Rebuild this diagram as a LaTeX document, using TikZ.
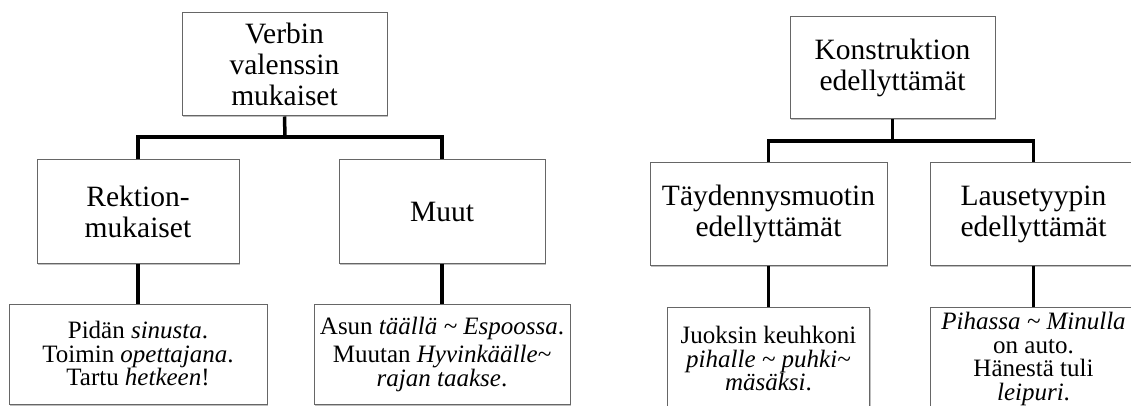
\documentclass[tikz,border=0pt]{standalone}
\usepackage{fontspec}
\setmainfont{Liberation Serif}
\usetikzlibrary{shadows}
\begin{document}
\begin{tikzpicture}[x=1pt,y=-1pt,
  box/.style={draw=black!60, line width=1pt, fill=white, align=center, inner sep=0pt,
    drop shadow={shadow xshift=1pt,shadow yshift=-1.5pt,opacity=0.25,fill=black}},
  big/.style={font=\fontsize{29.5}{31}\selectfont},
  small/.style={font=\fontsize{25}{23.5}\selectfont},
  conn/.style={line width=3.5pt, draw=black}]
\useasboundingbox (0,0) rectangle (1131,406);
\clip (0,0) rectangle (1131,406);
\fill[white] (0,0) rectangle (1131,406);

% left tree
\node[box,big,minimum width=205pt,minimum height=103pt] (v) at (284.5,64.5) {Verbin\\valenssin\\mukaiset};
\node[box,big,minimum width=202pt,minimum height=103pt] (r) at (138,211.5) {Rektion-\\mukaiset};
\node[box,big,minimum width=206pt,minimum height=103pt] (m) at (442,211.5) {Muut};
\node[box,small,minimum width=258pt,minimum height=100pt] (rb) at (138,354) {Pidän \textit{sinusta}.\\Toimin \textit{opettajana}.\\Tartu \textit{hetkeen}!};
\node[box,small,minimum width=256pt,minimum height=100pt] (mb) at (442,354) {Asun \textit{täällä \textasciitilde\ Espoossa}.\\[5pt]Muutan \textit{Hyvinkäälle\textasciitilde}\\\textit{rajan taakse}.};

\coordinate (j1) at (285,137);
\draw[conn] (v.south) -- (j1);
\draw[conn] (r.north) |- (j1) -| (m.north);
\draw[conn] (r.south) -- (rb.north);
\draw[conn] (m.south) -- (mb.north);

% right tree
\node[box,big,minimum width=205pt,minimum height=102pt] (k) at (892.5,68) {Konstruktion\\edellyttämät};
\node[box,big,minimum width=237pt,minimum height=102pt] (t) at (768.5,214) {Täydennysmuotin\\edellyttämät};
\node[box,big,minimum width=207pt,minimum height=102pt] (l) at (1033.5,214) {Lausetyypin\\edellyttämät};
\node[box,small,minimum width=202pt,minimum height=104pt] (tb) at (768.5,359) {Juoksin keuhkoni\\\textit{pihalle \textasciitilde\ puhki\textasciitilde}\\\textit{mäsäksi}.};
\node[box,small,minimum width=207pt,minimum height=104pt] (lb) at (1033.5,359) {\textit{Pihassa \textasciitilde\ Minulla}\\on auto.\\Hänestä tuli\\\textit{leipuri}.};

\coordinate (j2) at (892.5,141);
\draw[conn] (k.south) -- (j2);
\draw[conn] (t.north) |- (j2) -| (l.north);
\draw[conn] (t.south) -- (tb.north);
\draw[conn] (l.south) -- (lb.north);
\end{tikzpicture}
\end{document}
